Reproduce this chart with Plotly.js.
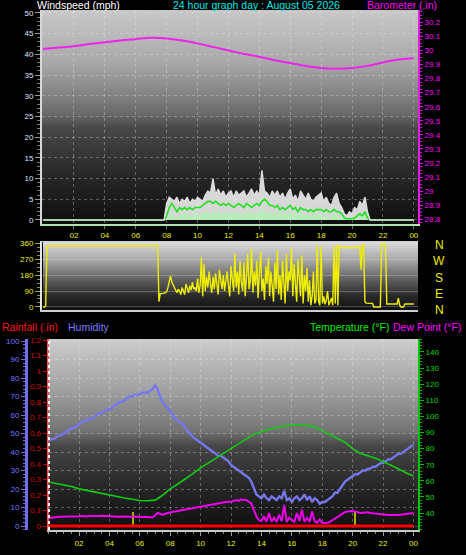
<!DOCTYPE html>
<html>
<head>
<meta charset="utf-8">
<script src="https://cdn.plot.ly/plotly-3.0.1.min.js"></script>
<style>
  html, body { margin:0; padding:0; background:#000; }
  #wrap { position:relative; width:466px; height:555px; background:#000; overflow:hidden; }
  .bg { position:absolute; }
  #bg1 { left:42px; top:10px; width:376px; height:214px;
         background:linear-gradient(to bottom,#c8c8c8 0%,#a8a8a8 25%,#6c6c6c 48%,#484848 55%,#2a2a2a 75%,#0e0e0e 100%); }
  #bg2 { left:43px; top:242px; width:375px; height:68px;
         background:linear-gradient(to bottom,#dcdcdc 0%,#a0a0a0 30%,#606060 55%,#282828 80%,#101010 100%); }
  #bg3 { left:49px; top:339px; width:369px; height:191px;
         background:linear-gradient(to bottom,#cccccc 0%,#a4a4a4 25%,#747474 48%,#464646 56%,#262626 78%,#0e0e0e 100%); }
  #plot { position:absolute; left:0; top:0; width:466px; height:555px; }
</style>
</head>
<body>
<div id="wrap">
  <div class="bg" id="bg1"></div>
  <div class="bg" id="bg2"></div>
  <div class="bg" id="bg3"></div>
  <div id="plot"></div>
</div>
<script>
// ---------------- DATA ----------------
const hourTickVals = [2,4,6,8,10,12,14,16,18,20,22,24];
const hourTickText = ['02','04','06','08','10','12','14','16','18','20','22','00'];

// wind gust (mph), every 10 minutes 00:00 -> 24:00
const windGust = [
 0,0,0,0,0,0, 0,0,0,0,0,0, 0,0,0,0,0,0, 0,0,0,0,0,0,
 0,0,0,0,0,0, 0,0,0,0,0,0, 0,0,0,0,0,0, 0,0,0,0,0,0,
 4,5.5,5,4.5,5.5,4, 5,4.5,5.5,4,5,4.5, 5.5,5,4.5,6,7,6.5, 10,6,7.5,6,7,5.5,
 6.5,7,5.5,7,6,6.5, 7,5.5,6.5,7.5,6,7, 6,12,7,6.5,5.5,7, 6,7,5.5,6.5,5,6.5,
 7.5,5,6,4.5,7,6, 5,6.5,5,4.5,5.5,6, 6.5,4.5,5.5,4,3.5,5.5, 6.5,4,3,1.5,1,2,
 1.5,3,2.5,4.5,3.5,5.5, 2,0,0,0,0,0, 0,0,0,0,0,0, 0,0,0,0,0,0, 0
];
// average wind speed (mph)
const windAvg = [
 0,0,0,0,0,0, 0,0,0,0,0,0, 0,0,0,0,0,0, 0,0,0,0,0,0,
 0,0,0,0,0,0, 0,0,0,0,0,0, 0,0,0,0,0,0, 0,0,0,0,0,0,
 1,3,4,3,2,3, 2.5,3,2.5,3,2.5,3, 3,3,3.5,4,4.5,4.5, 4,4.5,4,3.5,4,3.5,
 4,3.5,3,3.5,4,3.5, 3,4,3.5,3,3.5,4, 3.5,4.5,5,4.5,3.5,3.5, 3,3.5,2.5,3,2.5,3,
 3.5,2.5,3,2,3,2.5, 2.5,2,2.5,2,2.5,2.5, 2.5,2,2.5,2,2,2.5, 2,2,1.5,0.5,0.3,0.3,
 0.3,0.5,1,1.5,1,2, 0.5,0,0,0,0,0, 0,0,0,0,0,0, 0,0,0,0,0,0, 0
];
// wind speed (mph)
const windSpeed = [
 0,0,0,0,0,0, 0,0,0,0,0,0, 0,0,0,0,0,0, 0,0,0,0,0,0,
 0,0,0,0,0,0, 0,0,0,0,0,0, 0,0,0,0,0,0, 0,0,0,0,0,0,
 0,1,2,1,0.5,1.5, 1,2,1,1.5,0.5,2, 1.5,1,2,1.5,2.5,1, 2,1.5,2.5,1,2,1.5,
 2,1,2.5,1.5,2,1, 2,1.5,2.5,1,2,1.5, 2,3,2,1.5,2.5,1, 2,1.5,2,1,2,1.5,
 2,1,1.5,1,2,1.5, 1,1.5,1,2,1,1.5, 1,1.5,1,0.5,1,1.5, 1,0.5,1,0.3,0.3,0.3,
 0.3,0.5,1,0.5,1,1.5, 0,0,0,0,0,0, 0,0,0,0,0,0, 0,0,0,0,0,0, 0
];
// barometer (inHg), hourly 0..24
const barometer = [30.01,30.02,30.03,30.045,30.058,30.07,30.08,30.09,30.085,30.07,30.05,30.025,
 30.0,29.975,29.955,29.93,29.91,29.89,29.875,29.87,29.875,29.89,29.915,29.935,29.945];
// wind direction (degrees), every 5 minutes
const windDir = [
 0,0,5,340,345,345,345,345,345,345,345,345,
 345,345,345,345,345,345,345,345,345,345,345,345,
 345,345,345,345,345,345,345,345,345,345,345,345,
 345,345,345,345,345,345,345,345,345,345,345,345,
 345,345,345,345,345,345,345,345,345,345,345,345,
 345,345,345,345,345,345,345,345,345,345,345,345,
 345,345,345,345,345,345,345,345,345,345,345,345,
 345,345,345,345,345,345,30,75,75,75,78,80,
 85,110,150,175,140,120,110,95,80,100,90,70,
 110,90,70,130,100,80,120,95,140,100,110,90,
 160,80,120,280,60,240,90,170,110,200,130,80,
 170,100,190,120,70,210,140,100,180,90,150,200,
 120,60,230,150,90,300,110,200,70,260,140,90,
 250,60,180,300,100,150,330,80,200,120,260,50,
 190,310,90,160,40,230,130,280,60,200,120,30,
 250,100,320,70,180,40,260,130,20,300,90,200,
 150,330,60,240,100,30,270,140,60,290,20,180,
 90,220,30,150,10,60,200,20,40,350,30,10,
 340,20,60,15,40,90,10,30,50,10,345,20,
 350,10,345,335,338,335,340,335,335,338,335,335,
 335,338,335,335,340,338,340,210,350,355,30,22,
 22,20,22,20,20,0,0,0,0,0,0,355,
 355,355,355,17,17,17,17,17,17,17,17,17,
 50,10,0,0,0,17,17,17,17,17,17,17,
 17
];
// rainfall (in), hourly
const rainfall = [0,0,0,0,0,0,0,0,0,0,0,0,0,0,0,0,0,0,0,0,0,0,0,0,0];
// short yellow markers on the rain axis
const eventHour = [5.57, 20.16];
const eventValue = [0.09, 0.09];
// humidity (%), every 10 minutes
const humidity = [
 46,47,47,48,49,49, 50,51,52,53,53,54, 55,56,57,57,58,58, 59,60,61,61,62,63,
 63,64,65,66,67,67, 68,69,70,70,71,71, 71,72,72,72,73,74, 76,74,70,67,65,64,
 62,60,58,57,56,55, 53,51,50,48,47,46, 45,44,43,42,41,40, 39,38,38,37,36,35,
 33,32,31,30,29,28, 27,26,24,20,17,16, 15,17,15,14,16,15, 14,16,15,19,14,15,
 13,15,16,14,15,17, 14,16,13,15,14,12, 13,13,14,15,16,18, 18,20,22,24,25,26,
 27,28,28,29,30,30, 31,31,32,32,33,34, 34,35,36,36,37,38, 39,39,40,41,42,43, 44
];
// temperature (F), every 30 minutes
const temperature = [59.3,58.5,57.5,56.5,55,54,53,52,51,50,49.3,48.5,47.8,47.6,48,51,
 55,58,61,64.5,68,71,73.5,76.5,80,83,86,89,90.5,92,93,94,94.5,95,94.5,93.5,
 91,88.5,86.5,84,80,77,75.5,74,72,70,67.5,65,63];
// dew point (F), every 10 minutes
const dewPoint = [
 36.7,37,37.2,37.4,37.6,37.7, 37.7,37.8,37.6,38,37.8,38, 38,38.2,38,37.9,38.2,38.1, 38,38.2,38.1,38.3,38,38.1,
 38,37.8,37.9,37.7,37.8,37.7, 37.7,37.8,37.6,37.7,37.8,37.6, 37.7,37.5,37.6,37.4,37,37.2, 38.5,40,39.5,38.8,39.5,40,
 40.6,40.8,41,41.3,41.5,41.8, 42,42.3,42.8,43,43.5,43.8, 44,44.3,44.8,45,45.2,45.5, 45.6,46,46.3,46.5,46.8,47,
 47,47.5,48,47.5,48.5,48, 48,47,46,42,38,35.6, 35,38,34.5,40,34.6,37, 34.5,39,35,45,34.5,37,
 36,34.5,40,35,42,34.5, 37,34.5,41,35,34,36, 33.8,33.7,34,34.5,35.5,37, 37.5,38.5,39.5,40.5,41,41.2,
 41.2,41,40.6,40,40.2,40.4, 40.4,40,39.8,39.5,39.3,39, 38.8,39,38.8,38.7,38.9,38.8, 38.8,39,39.2,39.4,39.6,39.8, 40
];

// sample times (hours)
const t5 = []; for (let i = 0; i < windDir.length; i++) t5.push(i / 12);
const t10 = []; for (let i = 0; i < windGust.length; i++) t10.push(i / 6);
const t30 = []; for (let i = 0; i < temperature.length; i++) t30.push(i / 2);
const t60 = []; for (let i = 0; i < barometer.length; i++) t60.push(i);

// ---------------- LAYOUT HELPERS ----------------
const W = 466, H = 555;
const px = v => v / W;
const py = v => 1 - v / H;
const FONT = 'Liberation Sans, Arial, sans-serif';
const YEL = '#ecec00';
const tickFont = c => ({family: FONT, size: 8, color: c});

const traces = [
  {x: t10, y: windGust, xaxis: 'x', yaxis: 'y', type: 'scatter', mode: 'lines',
   fill: 'tozeroy', fillcolor: 'rgba(232,232,232,0.92)', line: {width: 0, color: '#e8e8e8'}, hoverinfo: 'skip'},
  {x: t10, y: windSpeed, xaxis: 'x', yaxis: 'y', type: 'scatter', mode: 'lines',
   fill: 'tozeroy', fillcolor: '#b8ecb8', line: {width: 0, color: '#b8ecb8'}, hoverinfo: 'skip'},
  {x: t10, y: windAvg, xaxis: 'x', yaxis: 'y', type: 'scatter', mode: 'lines',
   line: {width: 1.6, color: '#22e022'}},
  {x: t10, y: windGust, xaxis: 'x', yaxis: 'y', type: 'scatter', mode: 'lines',
   line: {width: 1.4, color: '#dcdcdc'}},
  {x: t60, y: barometer, xaxis: 'x', yaxis: 'y2', type: 'scatter', mode: 'lines',
   line: {width: 2, color: '#ee22ee', shape: 'spline'}},
  {x: t5, y: windDir, xaxis: 'x2', yaxis: 'y3', type: 'scatter', mode: 'lines',
   line: {width: 1.4, color: '#eeee00'}},
  {x: t60, y: rainfall, xaxis: 'x3', yaxis: 'y4', type: 'scatter', mode: 'lines',
   line: {width: 3, color: '#ff0000'}},
  {x: eventHour, y: eventValue, xaxis: 'x3', yaxis: 'y4', type: 'bar', width: 0.13,
   marker: {color: '#b0b000', line: {width: 0}}},
  {x: t10, y: humidity, xaxis: 'x3', yaxis: 'y5', type: 'scatter', mode: 'lines',
   line: {width: 2.4, color: '#7676ee'}},
  {x: t30, y: temperature, xaxis: 'x3', yaxis: 'y6', type: 'scatter', mode: 'lines',
   line: {width: 1.6, color: '#10cc10'}},
  {x: t10, y: dewPoint, xaxis: 'x3', yaxis: 'y6', type: 'scatter', mode: 'lines',
   line: {width: 2, color: '#ee00ee'}}
];

const gridC = 'rgba(235,235,235,0.32)';
const ann = (text, x, y, color, xanchor, size) => ({
  text, x: px(x), y: py(y), xref: 'paper', yref: 'paper', showarrow: false,
  xanchor: xanchor || 'left', yanchor: 'middle', font: {family: FONT, size: size || 10, color}
});

const layout = {
  width: W, height: H,
  margin: {l: 0, r: 0, t: 0, b: 0, pad: 0},
  paper_bgcolor: 'rgba(0,0,0,0)', plot_bgcolor: 'rgba(0,0,0,0)',
  showlegend: false,
  font: {family: FONT, size: 8, color: '#ffffff'},
  bargap: 0,
  xaxis: {domain: [px(42), px(418)], anchor: 'y', range: [-0.07, 24.27],
    tickvals: hourTickVals, ticktext: hourTickText, tickfont: tickFont(YEL),
    ticks: 'outside', ticklen: 3, tickcolor: '#777',
    showline: true, linecolor: '#b0e4b0', linewidth: 1.5,
    showgrid: true, gridcolor: gridC, griddash: 'dot', zeroline: false},
  yaxis: {domain: [py(224), py(10)], anchor: 'x', range: [-0.97, 50.7],
    dtick: 5, tick0: 0, tickfont: tickFont('#dce8ff'),
    ticks: 'outside', ticklen: 5, tickcolor: '#999',
    minor: {ticks: 'outside', dtick: 1, ticklen: 3, tickcolor: '#777', showgrid: false},
    showline: true, linecolor: '#d8d8d8', linewidth: 2,
    showgrid: true, gridcolor: gridC, griddash: 'dot', zeroline: false},
  yaxis2: {overlaying: 'y', side: 'right', anchor: 'x', range: [28.767, 30.287],
    dtick: 0.1, tick0: 28.8, tickfont: tickFont('#ff00ff'),
    ticks: 'outside', ticklen: 3, tickcolor: '#ff00ff',
    minor: {ticks: 'outside', dtick: 0.025, ticklen: 2, tickcolor: '#dd00dd', showgrid: false},
    showline: true, linecolor: '#e020e0', linewidth: 2, showgrid: false, zeroline: false},
  xaxis2: {domain: [px(42), px(418)], anchor: 'y3', matches: 'x',
    showticklabels: false, ticks: '', showline: true, mirror: true,
    linecolor: '#cfcfcf', linewidth: 1.5, showgrid: false, zeroline: false},
  yaxis3: {domain: [py(310), py(242)], anchor: 'x2', range: [-17, 366],
    tickvals: [0, 90, 180, 270, 360], tickfont: tickFont(YEL),
    ticks: 'outside', ticklen: 5, tickcolor: '#a8a840',
    minor: {ticks: 'outside', dtick: 22.5, ticklen: 3, tickcolor: '#909030', showgrid: false},
    showline: true, linecolor: '#e4e4e4', linewidth: 2,
    showgrid: true, gridcolor: 'rgba(225,225,225,0.28)', zeroline: false},
  xaxis3: {domain: [px(48.6), px(418)], anchor: 'y4', range: [0, 24.3],
    tickvals: hourTickVals, ticktext: hourTickText, tickfont: tickFont(YEL),
    ticks: 'outside', ticklen: 4, tickcolor: '#999',
    minor: {ticks: 'outside', dtick: 0.5, ticklen: 2, tickcolor: '#888', showgrid: false},
    showline: true, linecolor: '#c8c8c8', linewidth: 2,
    showgrid: true, gridcolor: gridC, griddash: 'dot', zeroline: false},
  yaxis4: {domain: [py(530), py(339)], anchor: 'x3', range: [-0.0258, 1.2065],
    dtick: 0.1, tick0: 0, tickfont: tickFont('#dd0000'),
    ticks: 'outside', ticklen: 4, tickcolor: '#cc0000',
    showline: true, linecolor: '#ff5050', linewidth: 2, showgrid: false, zeroline: false},
  yaxis5: {overlaying: 'y4', side: 'left', anchor: 'free', position: px(26),
    range: [-2.16, 101.08], dtick: 10, tick0: 0, tickfont: tickFont('#7474ff'),
    ticks: 'outside', ticklen: 4, tickcolor: '#7070e0',
    minor: {ticks: 'outside', dtick: 2, ticklen: 2, tickcolor: '#6a6ad8', showgrid: false},
    showline: true, linecolor: '#7070e4', linewidth: 2.5,
    showgrid: true, gridcolor: gridC, griddash: 'dot', zeroline: false},
  yaxis6: {overlaying: 'y4', side: 'right', anchor: 'x3', range: [29.44, 148.07],
    tickvals: [40, 50, 60, 70, 80, 90, 100, 110, 120, 130, 140], tickfont: tickFont('#00dd00'),
    ticks: 'outside', ticklen: 4, tickcolor: '#00c000',
    minor: {ticks: 'outside', dtick: 2, ticklen: 2, tickcolor: '#00b000', showgrid: false},
    showline: true, linecolor: '#00c400', linewidth: 2, showgrid: false, zeroline: false},
  shapes: [
    {type: 'line', xref: 'paper', yref: 'paper', x0: px(49), x1: px(49), y0: py(530), y1: py(339),
     line: {color: '#ffffff', width: 2, dash: 'dot'}, layer: 'above'}
  ],
  annotations: [
    ann('Windspeed (mph)', 35, 5, '#ffffff', 'left', 10.5),
    ann('24 hour graph day : August 05 2026', 256, 5, '#00e8e8', 'center', 10.5),
    ann('Barometer (.in)', 439, 5, '#ff00ff', 'right', 10.5),
    ann('Rainfall (.in)', 0, 327, '#ff1010', 'left', 10.5),
    ann('Humidity', 66, 327, '#7c7cff', 'left', 10.5),
    ann('Temperature (°F)', 391, 327, '#00ee00', 'right', 10.5),
    ann('Dew Point (°F)', 391, 327, '#ff00ff', 'left', 10.5),
    ann('N', 439, 245, YEL, 'center', 12),
    ann('W', 439, 261, YEL, 'center', 12),
    ann('S', 439, 278, YEL, 'center', 12),
    ann('E', 439, 294, YEL, 'center', 12),
    ann('N', 439, 310, YEL, 'center', 12)
  ]
};

Plotly.newPlot('plot', traces, layout, {staticPlot: true, displayModeBar: false});
</script>
</body>
</html>
